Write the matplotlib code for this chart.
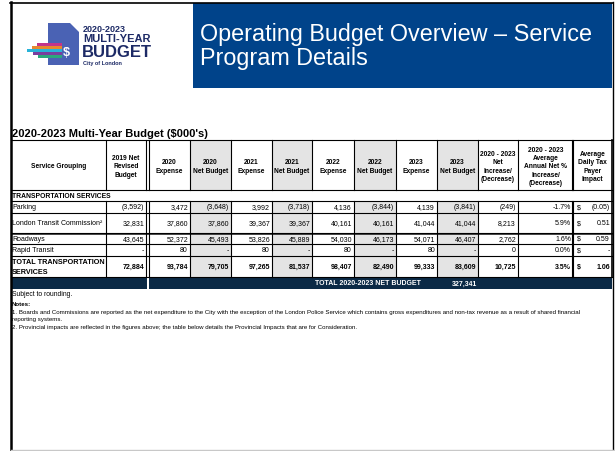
import matplotlib
matplotlib.use("Agg")
import matplotlib.pyplot as plt
import matplotlib.patches as patches

plt.rcParams['font.family'] = ['Liberation Sans', 'DejaVu Sans']

# ---- data ----
title_lines = ["Operating Budget Overview \u2013 Service", "Program Details"]
subtitle = "2020-2023 Multi-Year Budget ($000's)"

col_headers = ["Service Grouping", "2019 Net\nRevised\nBudget",
               "2020\nExpense", "2020\nNet Budget",
               "2021\nExpense", "2021\nNet Budget",
               "2022\nExpense", "2022\nNet Budget",
               "2023\nExpense", "2023\nNet Budget",
               "2020 - 2023\nNet\nIncrease/\n(Decrease)",
               "2020 - 2023\nAverage\nAnnual Net %\nIncrease/\n(Decrease)",
               "Average\nDaily Tax\nPayer\nImpact"]

section = "TRANSPORTATION SERVICES"
services = ["Parking", "London Transit Commission\u00b2", "Roadways", "Rapid Transit"]

net_2019 = [-3592, 32831, 43645, 0]
exp_2020 = [3472, 37860, 52372, 80]
net_2020 = [-3648, 37860, 45493, 0]
exp_2021 = [3992, 39367, 53826, 80]
net_2021 = [-3718, 39367, 45889, 0]
exp_2022 = [4136, 40161, 54030, 80]
net_2022 = [-3844, 40161, 46173, 0]
exp_2023 = [4139, 41044, 54071, 80]
net_2023 = [-3841, 41044, 46407, 0]
net_increase = [-249, 8213, 2762, 0]
avg_pct = [-1.7, 5.9, 1.6, 0.0]
daily_impact = [-0.05, 0.51, 0.59, 0.0]

total_label = "TOTAL TRANSPORTATION\nSERVICES"
total_row = [72884, 93784, 79705, 97265, 81537, 98407, 82490, 99333, 83609, 10725]
total_pct = 3.5
total_daily = 1.06
total_net_budget = 327341

notes = ["Subject to rounding.", "Notes:",
         "1. Boards and Commissions are reported as the net expenditure to the City with the exception of the London Police Service which contains gross expenditures and non-tax revenue as a result of shared financial",
         "reporting systems.",
         "2. Provincial impacts are reflected in the figures above; the table below details the Provincial Impacts that are for Consideration."]


def money(v, zero="-"):
    if v == 0:
        return zero
    s = "{:,}".format(abs(v))
    return "(" + s + ")" if v < 0 else s


def dollars(v):
    if v == 0:
        return "-"
    s = "{:.2f}".format(abs(v))
    return "(" + s + ")" if v < 0 else s


# ---- layout ----
col_x = [11, 106, 146, 190, 231, 272, 312, 354, 396, 437, 478, 518, 573, 612]
row_y = [141, 191, 202, 214, 234, 245, 257, 278, 290]
gray_cols = [3, 5, 7, 9]
BLUE = "#00438a"
NAVY = "#0b2a46"
GRAY = "#e4e4e4"
LOGO = "#1d2a66"

fig = plt.figure(figsize=(6.16, 4.52), dpi=100)
ax = fig.add_axes([0, 0, 1, 1])
ax.set_xlim(0, 616)
ax.set_ylim(452, 0)
ax.axis('off')

# page frame + title banner
ax.add_patch(patches.Rectangle((193, 4), 419, 85, color=BLUE, lw=0))
ax.plot([11, 11], [3, 452], color="black", lw=1.8)
ax.plot([10, 613], [3.5, 3.5], color="black", lw=1.2)
ax.plot([612.5, 612.5], [3, 452], color="black", lw=1.0)
ax.plot([11, 613], [450.5, 450.5], color="#c8c8c8", lw=1.0)

ax.text(200, 41, title_lines[0], color="white", fontsize=16.8, va="baseline")
ax.text(200, 65, title_lines[1], color="white", fontsize=16.8, va="baseline")

# logo
stripes = [("#c2358a", 44, 37), ("#e7892e", 47, 32), ("#29b3d8", 50, 27),
           ("#7a3e9e", 53, 33), ("#2ba87c", 56, 38)]
doc = patches.Polygon([(48, 24), (70, 24), (79, 33), (79, 66), (48, 66)],
                      closed=True, color="#4a62b4", lw=0)
ax.add_patch(doc)
for c, y, x0 in stripes:
    ax.add_patch(patches.Rectangle((x0, y), 62 - x0, 3, color=c, lw=0))
ax.text(66, 53, "$", color="white", fontsize=9, fontweight="bold", ha="center", va="center")
ax.text(83, 29, "2020-2023", color=LOGO, fontsize=6.5, fontweight="bold", va="center")
ax.text(83, 39.5, "MULTI-YEAR", color=LOGO, fontsize=8, fontweight="bold", va="center")
ax.text(82, 52.5, "BUDGET", color=LOGO, fontsize=12, fontweight="bold", va="center")
ax.text(83, 63, "City of London", color=LOGO, fontsize=4, fontweight="bold", va="center")

# subtitle
ax.text(12, 137, subtitle, fontsize=8, fontweight="bold", va="baseline")

# gray shading for net budget columns
for ci in gray_cols:
    for r0, r1 in [(row_y[0], row_y[1])] + list(zip(row_y[2:7], row_y[3:8])):
        ax.add_patch(patches.Rectangle((col_x[ci], r0), col_x[ci + 1] - col_x[ci], r1 - r0,
                                       color=GRAY, lw=0))

# header text
for ci, h in enumerate(col_headers):
    cx = (col_x[ci] + col_x[ci + 1]) / 2
    if ci == 2:
        cx += 1.5
    ax.text(cx, (row_y[0] + row_y[1]) / 2 + 1, h, fontsize=4.8, fontweight="bold",
            ha="center", va="center", linespacing=1.25)

ax.text(12, (row_y[1] + row_y[2]) / 2, section, fontsize=4.9, fontweight="bold", va="center")

# data rows
columns = [net_2019, exp_2020, net_2020, exp_2021, net_2021, exp_2022, net_2022,
           exp_2023, net_2023]
for ri, name in enumerate(services):
    y0, y1 = row_y[ri + 2], row_y[ri + 3]
    ym = (y0 + y1) / 2
    ax.text(12, ym, name, fontsize=5, va="center")
    for ci, vals in enumerate(columns):
        ax.text(col_x[ci + 2] - 2, ym, money(vals[ri]), fontsize=5, ha="right", va="center")
    ax.text(col_x[11] - 2, ym, money(net_increase[ri], zero="0"), fontsize=5, ha="right", va="center")
    ax.text(col_x[12] - 2, ym, "{:.1f}%".format(avg_pct[ri]), fontsize=5, ha="right", va="center")
    ax.text(col_x[12] + 4, ym, "$", fontsize=5, ha="left", va="center")
    ax.text(col_x[13] - 2, ym, dollars(daily_impact[ri]), fontsize=5, ha="right", va="center")

# total row
y0, y1 = row_y[6], row_y[7]
ym = (y0 + y1) / 2
ax.text(12, ym, total_label, fontsize=5.2, fontweight="bold", va="center", linespacing=1.5)
for ci, v in enumerate(total_row):
    ax.text(col_x[ci + 2] - 2, ym, money(v), fontsize=5, fontweight="bold", ha="right", va="center")
ax.text(col_x[12] - 2, ym, "{:.1f}%".format(total_pct), fontsize=5, fontweight="bold", ha="right", va="center")
ax.text(col_x[12] + 4, ym, "$", fontsize=5, fontweight="bold", ha="left", va="center")
ax.text(col_x[13] - 2, ym, "{:.2f}".format(total_daily), fontsize=5, fontweight="bold", ha="right", va="center")

# grid lines
lw = 0.8
for y in row_y[:8]:
    ax.plot([col_x[0], col_x[-1]], [y, y], color="black", lw=lw)
ax.plot([col_x[0], col_x[-1]], [row_y[4] + 1.2, row_y[4] + 1.2], color="black", lw=0.5)
for i, x in enumerate(col_x[1:-1], start=1):
    segs = [(row_y[0], row_y[1]), (row_y[2], row_y[7])]
    for a, b in segs:
        ax.plot([x, x], [a, b], color="black", lw=lw)
        if i == 2:
            ax.plot([x + 3, x + 3], [a, b], color="black", lw=lw)
        if i == 12:
            ax.plot([x - 1, x - 1], [a, b], color="black", lw=lw)
ax.plot([col_x[-1], col_x[-1]], [row_y[0], row_y[7]], color="black", lw=1.2)

# navy total net budget bar
ax.add_patch(patches.Rectangle((col_x[0], row_y[7]), col_x[2] - col_x[0] + 0.5, row_y[8] - row_y[7],
                               color=NAVY, lw=0))
ax.add_patch(patches.Rectangle((col_x[2] + 3, row_y[7]), col_x[-1] - col_x[2] - 3, row_y[8] - row_y[7],
                               color=NAVY, lw=0))
bm = (row_y[7] + row_y[8]) / 2
ax.text(368, bm, "TOTAL 2020-2023 NET BUDGET", color="white", fontsize=5, fontweight="bold",
        ha="center", va="center")
ax.text(464, bm, "{:,}".format(total_net_budget), color="white", fontsize=5, fontweight="bold",
        ha="center", va="center")

# notes
ax.text(12, 295, notes[0], fontsize=4.9, va="center")
ax.text(12, 305, notes[1], fontsize=4.4, fontweight="bold", va="center")
ax.text(12, 313, notes[2], fontsize=4.45, va="center")
ax.text(12, 320, notes[3], fontsize=4.45, va="center")
ax.text(12, 328, notes[4], fontsize=4.45, va="center")

fig.savefig("out.png", dpi=100)
